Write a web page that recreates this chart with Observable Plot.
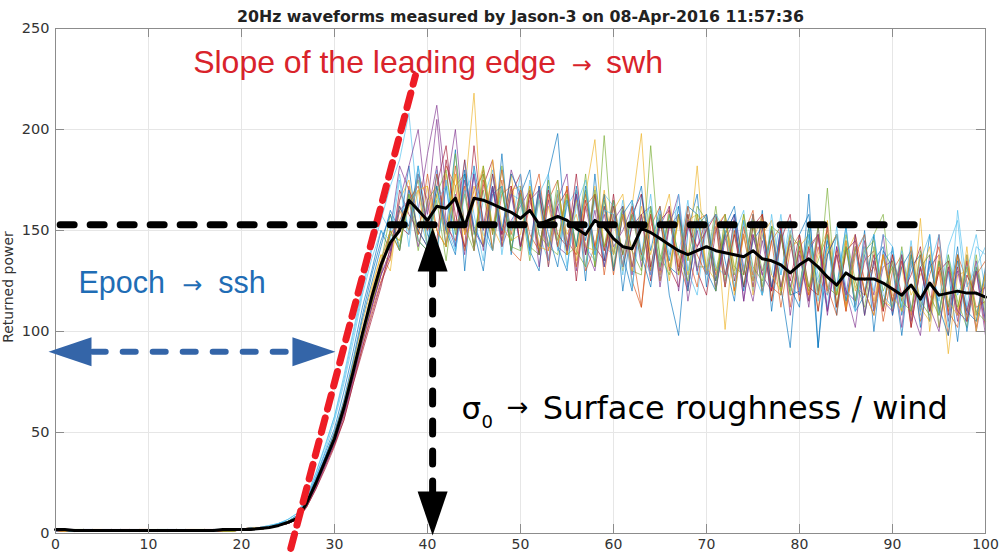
<!DOCTYPE html>
<html>
<head>
<meta charset="utf-8">
<script src="https://cdn.jsdelivr.net/npm/d3@7"></script>
<script src="https://cdn.jsdelivr.net/npm/@observablehq/plot@0.6"></script>
<style>
  html, body { margin: 0; padding: 0; background: #fff; overflow: hidden; }
</style>
</head>
<body>
<div id="chart"></div>
<script>
// ---------- data ----------
const title = "20Hz waveforms measured by Jason-3 on 08-Apr-2016 11:57:36";
const yLabel = "Returned power";
const gateTicks = [0, 10, 20, 30, 40, 50, 60, 70, 80, 90, 100];
const powerTicks = [0, 50, 100, 150, 200, 250];
const lineColors = ["#0072BD", "#D95319", "#EDB120", "#7E2F8E", "#77AC30", "#4DBEEE", "#A2142F"];

const meanWf = [
  2,2,1.5,1.5,1.5,1.5,1.5,1.5,1.5,1.5,
  1.5,1.5,1.5,1.5,1.5,1.5,1.5,1.5,2,2,
  2,2,2.5,3,4,5.5,7.5,15,25,36,
  47,62,80,99,117,133,144,150,165,160,
  155,162,161,166,152,166,165,163,161,159,
  156,160,153,155,157,155,151,148,155,152,
  146,142,141,151,149,146,143,140,138,140,
  142,140,139,138,137,140,136,135,133,129,
  133,136,132,127,123,129,126,126,126,124,
  121,118,123,116,124,118,119,120,119,119,
  117];

const wf01 = [2,1,2,1,1,2,1,1,2,1, 1,2,1,1,2,1,1,2,2,1, 2,2,3,3,5,6,9,16,27,38,
  50,64,84,106,124,142,160,150,182,145, 140,178,150,190,130,182,155,140,188,138,
  172,140,130,178,198,140,168,125,178,135, 165,120,155,172,130,158,118,98,150,168,
  122,158,135,115,155,125,160,110,148,122, 112,168,92,148,108,142,112,150,100,140,
  132,98,138,112,148,102,130,95,138,108, 128];
const wf02 = [1,2,2,1,1,1,2,1,1,2, 2,1,1,2,1,2,1,1,2,2, 2,3,2,3,4,5,7,14,23,34,
  44,58,76,92,110,125,138,162,150,178, 165,138,182,172,140,165,180,148,175,140,
  135,170,142,165,175,138,170,130,142,168, 130,158,125,112,158,128,162,135,120,155,
  158,125,150,120,148,160,118,145,112,140, 148,115,142,122,108,145,112,135,140,105,
  130,138,102,132,110,130,98,138,125,102, 130];
const wf03 = [2,2,1,1,2,1,1,1,2,1, 1,1,2,1,1,2,2,1,1,2, 2,2,2,3,4,6,8,15,24,35,
  48,62,80,98,120,138,130,165,175,148, 172,140,178,150,168,218,142,172,145,178,
  140,168,138,162,142,172,135,168,195,140, 155,130,162,198,130,158,125,158,135,182,
  128,158,101,150,122,145,158,115,148,120, 142,148,110,155,118,138,148,108,135,115,
  112,132,105,156,100,135,89,128,130,105, 125];
const wf04 = [1,2,1,2,2,1,2,1,1,1, 2,1,1,1,2,1,2,2,1,1, 2,2,3,3,4,5,7,14,24,35,
  46,60,78,96,112,128,150,182,170,160, 188,212,170,200,150,178,140,170,148,180,
  165,142,172,135,165,178,130,162,140,158, 138,160,128,158,162,122,152,158,115,142,
  155,120,148,158,115,148,128,120,152,108, 138,115,152,110,142,120,102,138,118,148,
  108,135,112,98,138,110,132,105,135,100, 125];
const wf05 = [2,1,1,2,1,2,1,2,1,1, 1,2,2,1,1,1,2,1,2,2, 2,2,2,3,4,5,8,15,25,36,
  47,62,80,100,114,130,148,145,162,175, 142,165,135,172,178,148,170,140,182,145,
  165,135,170,142,138,168,142,178,132,197, 138,162,130,128,192,135,158,128,158,132,
  132,162,125,155,122,152,130,150,118,145, 122,152,120,171,112,142,122,118,148,158,
  112,142,110,132,138,108,135,115,102,138, 108];
const wf06 = [1,1,2,2,1,1,2,1,2,2, 1,1,2,1,2,1,1,2,1,2, 2,2,3,4,5,7,10,18,30,44,
  58,76,98,120,140,155,172,185,208,160, 142,180,152,140,185,158,135,178,150,170,
  140,175,148,135,168,140,165,142,135,168, 162,128,158,138,168,125,155,162,130,118,
  152,158,122,148,160,120,148,128,158,122, 118,148,128,112,152,115,140,148,110,135,
  140,112,145,108,135,115,142,155,112,142, 138];
const wf07 = [2,2,1,1,1,2,2,1,1,2, 1,2,1,2,1,1,2,1,2,1, 2,3,2,3,4,5,7,13,22,33,
  44,56,74,92,108,124,136,170,158,150, 142,172,192,152,185,140,172,185,142,168,
  178,140,168,142,162,170,125,165,142,135, 168,132,152,158,125,155,132,122,158,130,
  118,150,158,125,148,122,152,115,145,158, 120,142,110,138,148,112,142,120,108,138,
  115,138,102,132,110,148,108,132,110,130, 102];
const wf08 = [1,2,2,1,2,1,1,2,1,1, 2,1,2,1,1,2,1,1,2,2, 2,2,3,3,5,6,9,17,28,40,
  52,70,90,112,130,150,140,162,152,182, 148,140,172,142,178,150,130,168,172,140,
  168,180,138,172,142,130,172,145,168,132, 158,138,120,168,140,162,132,128,162,158,
  130,120,152,162,128,158,118,152,122,92, 148,158,118,145,122,152,110,118,148,112,
  142,108,132,138,105,135,112,142,100,132, 105];
const wf09 = [2,1,1,2,1,1,1,2,2,1, 1,2,1,1,2,2,1,2,1,2, 2,2,2,3,4,5,7,14,24,35,
  47,60,78,96,118,135,150,140,172,148, 178,150,142,182,148,170,178,140,168,172,
  142,162,178,140,168,145,138,168,142,162, 128,158,140,112,152,162,130,158,138,122,
  158,128,148,120,152,128,158,122,118,148, 115,142,148,118,138,110,148,125,132,110,
  138,115,135,105,128,142,110,102,135,112, 115];
const wf10 = [1,2,1,1,2,2,1,1,1,2, 2,1,1,2,1,1,2,1,2,1, 2,3,3,3,4,6,8,16,26,37,
  50,65,84,104,122,138,135,160,150,170, 142,168,148,178,140,165,182,152,142,170,
  172,142,165,132,170,148,158,138,172,142, 160,168,132,158,130,152,168,128,155,158,
  132,125,155,130,158,118,148,155,122,142, 145,118,138,150,112,145,120,142,115,138,
  110,138,118,128,142,102,132,110,138,108, 128];
const wf11 = [2,1,2,1,1,1,2,2,1,1, 1,1,2,2,1,2,1,2,1,2, 2,2,2,3,4,5,7,14,23,34,
  45,59,77,95,112,128,140,165,182,200, 158,182,142,168,138,178,150,172,142,155,
  162,170,132,165,142,138,168,142,130,162, 142,150,162,132,158,130,152,168,122,150,
  128,152,122,158,132,115,145,120,152,122, 140,112,148,108,142,120,115,145,110,132,
  135,102,142,110,132,138,105,130,108,135, 105];
const wf12 = [1,1,2,2,1,2,1,1,2,1, 2,2,1,1,1,2,2,1,1,2, 2,2,3,3,4,6,8,15,25,37,
  48,63,82,100,116,134,158,142,168,140, 165,172,142,188,152,140,178,148,170,142,
  140,172,148,142,175,138,142,170,132,165, 132,162,140,130,160,138,128,158,135,162,
  155,130,150,128,158,132,125,152,120,148, 142,120,152,122,118,148,125,112,142,120,
  132,110,138,115,108,135,112,138,105,132, 112];
const wf13 = [2,2,1,1,1,2,1,2,1,2, 1,2,1,2,2,1,1,2,2,1, 2,2,3,3,5,6,9,17,28,41,
  56,74,95,118,136,150,145,175,142,182, 152,138,175,148,170,142,165,180,138,168,
  165,138,168,178,140,162,170,132,165,142, 138,165,122,155,162,132,158,138,165,128,
  158,132,128,152,130,158,118,148,128,155, 122,148,115,142,120,152,112,138,148,118,
  112,140,110,135,148,108,138,118,130,148, 120];
const wf14 = [1,2,1,2,1,1,2,1,2,2, 2,1,1,1,2,1,2,1,1,2, 2,2,2,3,4,5,7,13,22,32,
  43,56,74,90,106,122,142,152,148,178, 152,145,185,158,142,192,152,178,148,172,
  142,168,138,170,148,142,178,138,168,140, 162,138,158,168,132,155,160,130,152,142,
  150,158,128,148,122,152,158,120,148,125, 148,122,118,152,112,140,145,118,138,110,
  138,118,128,142,110,130,135,108,128,118, 122];
const wf15 = [2,1,1,2,2,1,1,2,1,1, 1,2,2,1,1,2,1,1,2,2, 2,3,2,3,4,6,8,16,26,38,
  50,66,86,108,128,145,158,140,170,150, 142,172,150,138,180,152,142,172,150,178,
  168,140,172,148,132,165,142,172,138,168, 130,158,165,138,122,158,135,162,120,152,
  158,125,148,158,120,145,152,122,150,118, 120,152,92,138,148,115,142,108,135,142,
  108,132,140,102,135,112,98,135,110,105, 132];
const wf16 = [1,1,2,1,2,2,1,1,2,1, 2,1,1,2,1,1,2,2,1,1, 2,2,3,3,4,5,7,14,24,36,
  46,60,78,96,114,130,148,155,165,172, 150,178,152,145,172,142,175,150,180,148,
  170,148,140,168,142,172,132,162,168,128, 158,132,162,138,158,125,155,132,162,138,
  128,155,122,150,128,158,120,145,152,112, 142,118,148,120,140,110,138,148,112,138,
  115,135,108,138,112,132,110,138,105,128, 135];
const wf17 = [2,1,2,2,1,1,2,1,1,2, 1,1,2,1,2,2,1,1,2,1, 2,2,2,3,4,6,8,15,25,36,
  48,62,80,98,116,132,150,145,162,170, 172,150,142,178,148,172,142,185,152,145,
  148,172,142,140,170,138,165,142,140,170, 138,158,130,162,138,158,132,155,128,158,
  130,152,158,118,148,125,155,128,120,150, 122,145,118,140,148,112,142,120,108,138,
  118,110,142,112,105,138,115,108,142,100, 130];
const wf18 = [1,2,2,1,1,2,1,2,2,1, 2,1,2,1,1,1,2,1,2,2, 2,2,3,3,4,5,7,14,23,34,
  45,58,76,94,112,128,138,160,165,142, 162,205,155,142,175,150,142,172,145,168,
  142,165,170,132,162,140,168,138,160,132, 155,162,132,158,128,152,162,120,155,130,
  152,122,145,155,115,148,128,150,122,145, 118,140,148,110,138,118,148,108,135,115,
  110,138,105,132,112,100,132,110,105,130, 98];
const wf19 = [2,2,1,1,2,1,2,1,1,2, 1,2,1,2,1,2,1,2,1,1, 2,2,2,3,4,5,8,15,24,36,
  47,62,80,96,114,130,150,140,168,145, 140,168,180,148,168,142,182,150,172,140,
  168,142,138,175,145,168,140,132,170,142, 165,138,158,135,162,132,158,138,125,158,
  152,120,158,132,128,155,122,152,148,118, 145,122,135,148,118,142,115,140,145,112,
  135,115,110,140,118,108,138,112,132,110, 105];
const wf20 = [1,2,1,2,1,2,2,1,2,1, 1,1,2,2,1,1,2,1,2,2, 2,2,3,4,5,7,10,18,30,43,
  58,78,100,122,142,158,150,178,148,178, 142,165,172,140,168,180,148,140,172,150,
  178,138,165,142,170,132,162,175,138,160, 158,132,165,140,128,160,138,168,130,155,
  128,158,150,122,155,130,118,158,128,150, 120,145,125,118,148,122,110,142,120,148,
  142,112,135,110,132,148,102,160,122,132, 142];

// annotation anchors (data units)
const slopeLine = [[25.3, -7.4], [38.7, 226.7]];
const levelLine = [[0.5, 152.8], [93.9, 152.8]];
const epochShaft = [[4.0, 90], [25.5, 90]];
const epochTips = [[-0.75, 90], [30.1, 90]];
const sigmaShaft = [[40.55, 130], [40.55, 19.8]];
const sigmaTips = [[40.55, 151.5], [40.55, -1]];

// ---------- chart ----------
const waveforms = [wf01, wf02, wf03, wf04, wf05, wf06, wf07, wf08, wf09, wf10,
                   wf11, wf12, wf13, wf14, wf15, wf16, wf17, wf18, wf19, wf20];

const W = 999, H = 554, mL = 55, mR = 14, mT = 28, mB = 21;
const fw = W - mL - mR, fh = H - mT - mB;

function arrowHead(L, Wd) {
  return {draw(ctx) { ctx.moveTo(0, 0); ctx.lineTo(Wd / 2, L); ctx.lineTo(-Wd / 2, L); ctx.closePath(); }};
}

const sans = "Liberation Sans, Arial, sans-serif";
const dejavu = "DejaVu Sans, sans-serif";
const red = "#d9232b", blue = "#1f6db5";

function label(x, y, text, opts) {
  return Plot.text([text], {x: () => x, y: () => y, text: d => d, textAnchor: "start", lineAnchor: "bottom", ...opts});
}

const chart = Plot.plot({
  width: W, height: H,
  marginLeft: mL, marginRight: mR, marginTop: mT, marginBottom: mB,
  style: {fontFamily: dejavu, fontSize: "14px", color: "#333", background: "#fff", overflow: "visible"},
  x: {domain: [0, 100]},
  y: {domain: [0, 250]},
  marks: [
    Plot.gridX(gateTicks.slice(1, -1), {stroke: "#e6e6e6", strokeOpacity: 1}),
    Plot.gridY(powerTicks.slice(1, -1), {stroke: "#e6e6e6", strokeOpacity: 1}),
    ...waveforms.map((s, k) => Plot.line(s, {x: (d, i) => i, y: d => d, stroke: lineColors[k % 7], strokeWidth: 1, strokeOpacity: 0.65})),
    Plot.line(meanWf, {x: (d, i) => i, y: d => d, stroke: "#000", strokeWidth: 3}),
    Plot.frame({stroke: "#8c8c8c"}),
    Plot.tickX(gateTicks, {x: d => d, insetTop: fh - 9, stroke: "#8c8c8c"}),
    Plot.tickX(gateTicks, {x: d => d, insetBottom: fh - 9, stroke: "#8c8c8c"}),
    Plot.tickY(powerTicks, {y: d => d, insetRight: fw - 9, stroke: "#8c8c8c"}),
    Plot.tickY(powerTicks, {y: d => d, insetLeft: fw - 9, stroke: "#8c8c8c"}),
    Plot.axisX(gateTicks, {tickSize: 0, tickPadding: 6, label: null, fontSize: 14, fill: "#333"}),
    Plot.axisY(powerTicks, {tickSize: 0, tickPadding: 6, label: null, fontSize: 14.5, fill: "#333"}),
    Plot.text([yLabel], {frameAnchor: "left", textAnchor: "middle", rotate: -90, dx: -47, dy: 6, fontSize: 14, fill: "#333"}),
    Plot.text([title], {frameAnchor: "top", textAnchor: "middle", dy: -6.5, lineAnchor: "bottom", fontWeight: "bold", fontSize: 15.8, fill: "#222"}),

    // slope of the leading edge
    Plot.line(slopeLine, {x: d => d[0], y: d => d[1], stroke: "#ee1c25", strokeWidth: 7, strokeDasharray: "15,9"}),
    label(14.8, 228.2, "Slope of the leading edge", {fontSize: 32, fill: red, fontFamily: sans}),
    label(56.6, 232, "→", {fontSize: 24, fill: red, fontFamily: dejavu, textAnchor: "middle", lineAnchor: "middle"}),
    label(59.2, 228.2, "swh", {fontSize: 32, fill: red, fontFamily: sans}),

    // level line
    Plot.line(levelLine, {x: d => d[0], y: d => d[1], stroke: "#000", strokeWidth: 7, strokeDasharray: "14,16"}),

    // epoch
    Plot.line(epochShaft, {x: d => d[0], y: d => d[1], stroke: "#3465a8", strokeWidth: 6, strokeDasharray: "13,17"}),
    Plot.dot(epochTips.slice(0, 1), {x: d => d[0], y: d => d[1], symbol: arrowHead(43, 29), fill: "#3465a8", stroke: "none", rotate: -90}),
    Plot.dot(epochTips.slice(1), {x: d => d[0], y: d => d[1], symbol: arrowHead(43, 29), fill: "#3465a8", stroke: "none", rotate: 90}),
    label(2.47, 119.3, "Epoch", {fontSize: 30.5, fill: blue, fontFamily: sans}),
    label(14.7, 123, "→", {fontSize: 24, fill: blue, fontFamily: dejavu, textAnchor: "middle", lineAnchor: "middle"}),
    label(17.5, 119.3, "ssh", {fontSize: 30.5, fill: blue, fontFamily: sans}),

    // sigma0
    Plot.line(sigmaShaft, {x: d => d[0], y: d => d[1], stroke: "#000", strokeWidth: 7, strokeDasharray: "13,17"}),
    Plot.dot(sigmaTips.slice(0, 1), {x: d => d[0], y: d => d[1], symbol: arrowHead(44, 30), fill: "#000", stroke: "none", rotate: 0}),
    Plot.dot(sigmaTips.slice(1), {x: d => d[0], y: d => d[1], symbol: arrowHead(44, 30), fill: "#000", stroke: "none", rotate: 180}),
    label(43.66, 56.9, "σ", {fontSize: 31, fill: "#000", fontFamily: dejavu}),
    label(45.8, 52, "0", {fontSize: 18, fill: "#000", fontFamily: dejavu}),
    label(49.7, 62.5, "→", {fontSize: 26, fill: "#000", fontFamily: dejavu, textAnchor: "middle", lineAnchor: "middle"}),
    label(52.4, 56.9, "Surface roughness / wind", {fontSize: 32, fill: "#000", fontFamily: dejavu})
  ]
});
document.getElementById("chart").appendChild(chart);
</script>
</body>
</html>
